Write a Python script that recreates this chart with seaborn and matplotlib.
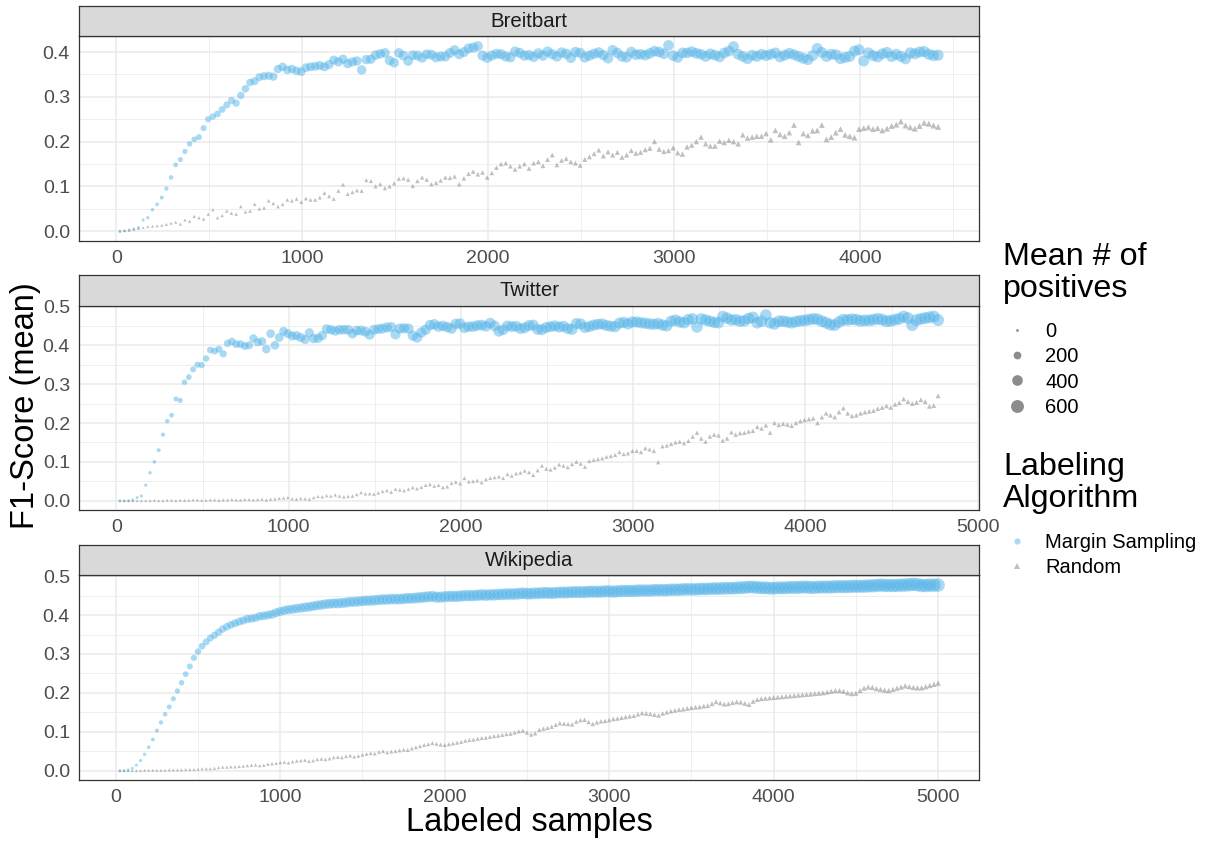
import numpy as np
import pandas as pd
import matplotlib
matplotlib.use("Agg")
import matplotlib.pyplot as plt
from matplotlib.lines import Line2D
from matplotlib.ticker import MultipleLocator, FormatStrFormatter
import seaborn as sns

# ---------------- data ----------------
datasets = ["Breitbart", "Twitter", "Wikipedia"]
algorithms = ["Margin Sampling", "Random"]

breitbart_x = np.arange(20, 4421, 25)
breitbart_ms = [
    0.0, 0.001, 0.003, 0.005, 0.008, 0.025, 0.03, 0.048, 0.06, 0.075,
    0.095, 0.12, 0.148, 0.16, 0.178, 0.195, 0.205, 0.21, 0.23, 0.25,
    0.256, 0.262, 0.272, 0.282, 0.292, 0.286, 0.303, 0.318, 0.332, 0.335,
    0.344, 0.346, 0.347, 0.345, 0.362, 0.367, 0.36, 0.362, 0.358, 0.356,
    0.365, 0.367, 0.368, 0.37, 0.367, 0.372, 0.382, 0.378, 0.384, 0.374,
    0.378, 0.38, 0.36, 0.383, 0.384, 0.393, 0.396, 0.398, 0.381, 0.376,
    0.398, 0.392, 0.38, 0.393, 0.392, 0.387, 0.395, 0.394, 0.388, 0.39,
    0.39, 0.398, 0.404, 0.395, 0.4, 0.408, 0.41, 0.413, 0.392, 0.387,
    0.392, 0.396, 0.395, 0.39, 0.388, 0.401, 0.398, 0.392, 0.393, 0.389,
    0.397, 0.392, 0.401, 0.395, 0.39, 0.399, 0.396, 0.387, 0.4, 0.398,
    0.388, 0.392, 0.396, 0.399, 0.393, 0.386, 0.404, 0.398, 0.39, 0.388,
    0.4, 0.394, 0.395, 0.393, 0.397, 0.402, 0.4, 0.396, 0.415, 0.392,
    0.388, 0.398, 0.398, 0.401, 0.397, 0.395, 0.39, 0.396, 0.393, 0.389,
    0.398, 0.402, 0.412, 0.395, 0.39, 0.385, 0.393, 0.39, 0.395, 0.392,
    0.395, 0.398, 0.389, 0.393, 0.397, 0.394, 0.39, 0.386, 0.383, 0.392,
    0.408, 0.399, 0.39, 0.395, 0.394, 0.385, 0.388, 0.39, 0.402, 0.405,
    0.38, 0.398, 0.392, 0.389, 0.396, 0.399, 0.39, 0.395, 0.39, 0.385,
    0.398, 0.396, 0.4, 0.401, 0.395, 0.392, 0.393]
breitbart_rnd = [
    0.0, 0.001, 0.002, 0.004, 0.006, 0.008, 0.01, 0.011, 0.012, 0.013,
    0.015, 0.018, 0.02, 0.016, 0.025, 0.022, 0.033, 0.03, 0.027, 0.038,
    0.048, 0.03, 0.035, 0.045, 0.04, 0.038, 0.055, 0.043, 0.045, 0.06,
    0.05, 0.052, 0.068, 0.062, 0.055, 0.06, 0.07, 0.068, 0.072, 0.065,
    0.073, 0.07, 0.07, 0.075, 0.085, 0.078, 0.072, 0.09, 0.104, 0.083,
    0.087, 0.091, 0.09, 0.114, 0.112, 0.1, 0.105, 0.096, 0.1, 0.107,
    0.117, 0.118, 0.115, 0.101, 0.112, 0.12, 0.115, 0.105, 0.108, 0.113,
    0.12, 0.119, 0.122, 0.105, 0.118, 0.128, 0.133, 0.127, 0.131, 0.12,
    0.13, 0.142, 0.15, 0.152, 0.145, 0.138, 0.145, 0.15, 0.14, 0.152,
    0.155, 0.146, 0.16, 0.17, 0.148, 0.158, 0.162, 0.155, 0.152, 0.147,
    0.16, 0.166, 0.173, 0.181, 0.168, 0.177, 0.17, 0.176, 0.165, 0.17,
    0.18, 0.174, 0.176, 0.182, 0.185, 0.2, 0.183, 0.178, 0.18, 0.186,
    0.175, 0.172, 0.188, 0.192, 0.2, 0.21, 0.195, 0.19, 0.19, 0.201,
    0.198, 0.203, 0.2, 0.195, 0.215, 0.208, 0.21, 0.212, 0.212, 0.218,
    0.204, 0.225, 0.216, 0.212, 0.22, 0.237, 0.198, 0.218, 0.214, 0.224,
    0.225, 0.237, 0.205, 0.21, 0.22, 0.228, 0.215, 0.212, 0.209, 0.228,
    0.23, 0.232, 0.228, 0.23, 0.225, 0.229, 0.235, 0.238, 0.245, 0.236,
    0.232, 0.229, 0.235, 0.242, 0.24, 0.236, 0.233]
breitbart_ms_pos = [
    0, 1, 2, 3, 5, 8, 12, 18, 24, 32, 40, 49, 58, 67, 76, 85, 94, 103, 112, 121,
    130, 139, 148, 157, 165, 173, 181, 189, 196, 203, 210, 217, 223, 229, 235, 241, 246, 251, 256, 261,
    265, 269, 273, 277, 281, 285, 288, 292, 295, 298, 301, 304, 307, 310, 312, 315, 317, 320, 322, 324,
    326, 328, 330, 332, 334, 336, 338, 340, 342, 344, 345, 347, 348, 350, 351, 353, 354, 356, 357, 359,
    360, 361, 362, 364, 365, 366, 367, 369, 370, 371, 372, 373, 374, 375, 376, 377, 378, 379, 380, 381,
    382, 383, 384, 385, 386, 387, 388, 389, 390, 391, 392, 393, 394, 395, 396, 397, 398, 399, 400, 400,
    401, 402, 403, 404, 405, 405, 406, 407, 408, 408, 409, 410, 411, 411, 412, 413, 414, 414, 415, 416,
    417, 417, 418, 419, 420, 420, 421, 421, 422, 423, 424, 424, 425, 425, 426, 427, 428, 428, 429, 429,
    430, 430, 431, 431, 432, 432, 433, 433, 434, 434, 435, 435, 436, 436, 437, 437, 438]
breitbart_rnd_pos = [
    0, 0, 1, 2, 3, 3, 4, 4, 5, 6, 7, 7, 8, 8, 9, 10, 11, 11, 12, 12,
    13, 13, 14, 15, 16, 16, 17, 17, 18, 18, 19, 20, 21, 21, 22, 22, 23, 23, 24, 25,
    26, 26, 27, 27, 28, 28, 29, 30, 31, 31, 32, 32, 33, 33, 34, 35, 36, 36, 37, 37,
    38, 38, 39, 40, 41, 41, 42, 42, 43, 43, 44, 45, 46, 46, 47, 47, 48, 48, 49, 50,
    51, 51, 52, 52, 53, 53, 54, 55, 56, 56, 57, 57, 58, 58, 59, 60, 61, 61, 62, 62,
    63, 63, 64, 65, 66, 66, 67, 67, 68, 68, 69, 70, 71, 71, 72, 72, 73, 73, 74, 75,
    76, 76, 77, 77, 78, 78, 79, 80, 81, 81, 82, 82, 83, 83, 84, 85, 86, 86, 87, 87,
    88, 88, 89, 90, 91, 91, 92, 92, 93, 93, 94, 95, 96, 96, 97, 97, 98, 98, 99, 100,
    101, 101, 102, 102, 103, 103, 104, 105, 106, 106, 107, 107, 108, 108, 109, 110, 111]

twitter_x = np.arange(20, 4771, 25)
twitter_ms = [
    0.0, 0.0, 0.0, 0.002, 0.008, 0.012, 0.04, 0.072, 0.1, 0.13,
    0.17, 0.205, 0.22, 0.262, 0.258, 0.305, 0.318, 0.338, 0.35, 0.349,
    0.366, 0.388, 0.385, 0.39, 0.378, 0.405, 0.41, 0.403, 0.403, 0.398,
    0.4, 0.418, 0.408, 0.41, 0.39, 0.43, 0.4, 0.42, 0.436, 0.43,
    0.424, 0.425, 0.42, 0.415, 0.432, 0.417, 0.418, 0.425, 0.442, 0.44,
    0.437, 0.44, 0.44, 0.44, 0.43, 0.438, 0.438, 0.435, 0.427, 0.44,
    0.442, 0.443, 0.446, 0.447, 0.428, 0.443, 0.444, 0.443, 0.425, 0.42,
    0.433, 0.44, 0.452, 0.454, 0.448, 0.45, 0.447, 0.443, 0.455, 0.456,
    0.445, 0.448, 0.448, 0.451, 0.452, 0.449, 0.457, 0.45, 0.436, 0.44,
    0.45, 0.448, 0.449, 0.443, 0.445, 0.451, 0.452, 0.441, 0.44, 0.446,
    0.448, 0.45, 0.447, 0.449, 0.443, 0.441, 0.456, 0.455, 0.446, 0.448,
    0.452, 0.454, 0.455, 0.451, 0.449, 0.448, 0.457, 0.459, 0.455, 0.46,
    0.46, 0.458, 0.457, 0.455, 0.454, 0.456, 0.452, 0.45, 0.462, 0.465,
    0.46, 0.458, 0.466, 0.468, 0.447, 0.468, 0.465, 0.462, 0.459, 0.458,
    0.474, 0.47, 0.465, 0.466, 0.462, 0.463, 0.469, 0.472, 0.458, 0.462,
    0.478, 0.458, 0.455, 0.462, 0.462, 0.46, 0.458, 0.461, 0.463, 0.464,
    0.466, 0.468, 0.467, 0.462, 0.458, 0.453, 0.452, 0.46, 0.466, 0.465,
    0.467, 0.466, 0.463, 0.464, 0.464, 0.466, 0.468, 0.466, 0.462, 0.463,
    0.466, 0.468, 0.474, 0.47, 0.452, 0.465, 0.468, 0.47, 0.472, 0.474,
    0.465]
twitter_rnd = [
    0.0, 0.0, 0.0, 0.0, 0.0, 0.0, 0.0, 0.0, 0.001, 0.0,
    0.0, 0.001, 0.001, 0.0, 0.001, 0.001, 0.001, 0.002, 0.002, 0.001,
    0.001, 0.002, 0.002, 0.001, 0.002, 0.002, 0.003, 0.002, 0.002, 0.003,
    0.003, 0.002, 0.003, 0.004, 0.002, 0.004, 0.005, 0.006, 0.007, 0.008,
    0.005, 0.004, 0.006, 0.005, 0.004, 0.008, 0.011, 0.01, 0.013, 0.012,
    0.015, 0.012, 0.01, 0.011, 0.012, 0.016, 0.021, 0.018, 0.018, 0.017,
    0.02, 0.024, 0.026, 0.022, 0.03, 0.028, 0.026, 0.03, 0.034, 0.031,
    0.035, 0.04, 0.042, 0.038, 0.04, 0.034, 0.036, 0.045, 0.048, 0.044,
    0.058, 0.049, 0.05, 0.052, 0.047, 0.055, 0.058, 0.06, 0.062, 0.058,
    0.068, 0.064, 0.07, 0.072, 0.077, 0.073, 0.066, 0.078, 0.09, 0.082,
    0.08, 0.085, 0.093, 0.09, 0.086, 0.094, 0.1, 0.095, 0.087, 0.102,
    0.105, 0.107, 0.109, 0.113, 0.115, 0.118, 0.125, 0.12, 0.122, 0.128,
    0.128, 0.125, 0.135, 0.132, 0.128, 0.099, 0.14, 0.142, 0.146, 0.15,
    0.152, 0.148, 0.154, 0.165, 0.175, 0.16, 0.152, 0.165, 0.17, 0.168,
    0.155, 0.16, 0.176, 0.17, 0.174, 0.175, 0.178, 0.18, 0.19, 0.186,
    0.194, 0.175, 0.2, 0.195, 0.198, 0.196, 0.193, 0.2, 0.205, 0.208,
    0.21, 0.212, 0.2, 0.215, 0.225, 0.22, 0.215, 0.228, 0.238, 0.225,
    0.218, 0.22, 0.225, 0.228, 0.23, 0.232, 0.237, 0.24, 0.244, 0.24,
    0.248, 0.252, 0.262, 0.255, 0.25, 0.253, 0.26, 0.255, 0.243, 0.245,
    0.27]
twitter_ms_pos = [
    0, 0, 1, 2, 3, 6, 10, 16, 22, 30, 38, 47, 56, 65, 75, 85, 95, 105, 115, 125,
    134, 143, 152, 161, 170, 178, 187, 195, 203, 210, 218, 225, 232, 238, 245, 251, 257, 262, 268, 273,
    278, 282, 287, 291, 296, 300, 304, 308, 312, 315, 319, 322, 326, 329, 333, 336, 339, 342, 345, 348,
    351, 353, 356, 358, 361, 363, 366, 368, 371, 373, 376, 378, 380, 382, 384, 386, 388, 390, 392, 394,
    396, 398, 400, 401, 403, 405, 407, 408, 410, 411, 413, 414, 416, 417, 419, 420, 422, 423, 425, 426,
    428, 429, 431, 432, 433, 434, 436, 437, 438, 439, 441, 442, 443, 444, 446, 447, 448, 449, 450, 451,
    452, 453, 455, 456, 457, 458, 459, 460, 461, 462, 463, 464, 465, 466, 467, 468, 469, 470, 471, 472,
    473, 474, 475, 476, 477, 478, 479, 479, 480, 481, 482, 483, 484, 485, 486, 486, 487, 488, 489, 490,
    491, 491, 492, 493, 494, 495, 496, 496, 497, 498, 499, 499, 500, 501, 502, 502, 503, 504, 505, 505,
    506, 507, 508, 508, 509, 510, 511, 511, 512, 513, 514]
twitter_rnd_pos = [
    0, 0, 0, 1, 1, 1, 1, 2, 2, 2, 3, 3, 4, 4, 4, 5, 5, 5, 6, 6,
    6, 7, 7, 7, 7, 8, 8, 8, 9, 9, 9, 10, 10, 10, 11, 11, 11, 12, 12, 12,
    12, 13, 13, 13, 14, 14, 14, 15, 15, 15, 16, 16, 16, 17, 17, 17, 17, 18, 18, 18,
    19, 19, 19, 20, 20, 20, 21, 21, 21, 22, 22, 22, 22, 23, 23, 23, 24, 24, 24, 25,
    25, 25, 26, 26, 26, 27, 27, 27, 27, 28, 28, 28, 29, 29, 29, 30, 30, 30, 31, 31,
    31, 32, 32, 32, 32, 33, 33, 33, 34, 34, 34, 35, 35, 35, 36, 36, 36, 37, 37, 37,
    37, 38, 38, 38, 39, 39, 39, 40, 40, 40, 41, 41, 41, 42, 42, 42, 42, 43, 43, 43,
    44, 44, 44, 45, 45, 45, 46, 46, 46, 47, 47, 47, 47, 48, 48, 48, 49, 49, 49, 50,
    50, 50, 51, 51, 51, 52, 52, 52, 52, 53, 53, 53, 54, 54, 54, 55, 55, 55, 56, 56,
    56, 57, 57, 57, 57, 58, 58, 58, 59, 59, 59]

wikipedia_x = np.arange(25, 5001, 25)
wikipedia_ms = [
    0.0, 0.0, 0.002, 0.006, 0.014, 0.026, 0.042, 0.06, 0.08, 0.103,
    0.124, 0.145, 0.164, 0.185, 0.205, 0.226, 0.248, 0.268, 0.29, 0.306,
    0.32, 0.331, 0.341, 0.348, 0.356, 0.364, 0.37, 0.375, 0.379, 0.383,
    0.386, 0.39, 0.391, 0.393, 0.397, 0.398, 0.4, 0.402, 0.406, 0.409,
    0.412, 0.414, 0.415, 0.417, 0.418, 0.42, 0.421, 0.423, 0.425, 0.426,
    0.428, 0.429, 0.43, 0.43, 0.431, 0.432, 0.434, 0.434, 0.435, 0.436,
    0.437, 0.437, 0.438, 0.439, 0.44, 0.44, 0.441, 0.441, 0.441, 0.442,
    0.443, 0.443, 0.444, 0.445, 0.446, 0.447, 0.448, 0.446, 0.446, 0.447,
    0.448, 0.448, 0.448, 0.449, 0.45, 0.45, 0.45, 0.451, 0.452, 0.451,
    0.452, 0.452, 0.453, 0.453, 0.454, 0.454, 0.454, 0.455, 0.456, 0.455,
    0.455, 0.456, 0.456, 0.457, 0.457, 0.456, 0.457, 0.458, 0.458, 0.458,
    0.459, 0.459, 0.459, 0.459, 0.46, 0.46, 0.46, 0.46, 0.461, 0.461,
    0.46, 0.461, 0.462, 0.462, 0.462, 0.462, 0.463, 0.463, 0.463, 0.463,
    0.464, 0.464, 0.464, 0.464, 0.465, 0.465, 0.465, 0.466, 0.466, 0.466,
    0.466, 0.467, 0.467, 0.467, 0.468, 0.468, 0.468, 0.469, 0.469, 0.469,
    0.47, 0.47, 0.471, 0.472, 0.472, 0.471, 0.47, 0.47, 0.469, 0.469,
    0.47, 0.47, 0.47, 0.471, 0.471, 0.471, 0.472, 0.472, 0.471, 0.471,
    0.472, 0.472, 0.472, 0.472, 0.473, 0.473, 0.473, 0.473, 0.474, 0.474,
    0.474, 0.474, 0.475, 0.475, 0.476, 0.477, 0.476, 0.476, 0.476, 0.476,
    0.477, 0.477, 0.478, 0.479, 0.478, 0.476, 0.476, 0.477, 0.477, 0.477]
wikipedia_rnd = [
    0.0, 0.0, 0.0, 0.0, 0.0, 0.0, 0.001, 0.001, 0.001, 0.001,
    0.001, 0.001, 0.002, 0.002, 0.002, 0.002, 0.003, 0.003, 0.003, 0.004,
    0.005, 0.005, 0.005, 0.006, 0.008, 0.009, 0.009, 0.01, 0.01, 0.011,
    0.012, 0.013, 0.014, 0.015, 0.013, 0.014, 0.017, 0.018, 0.019, 0.021,
    0.022, 0.02, 0.023, 0.025, 0.026, 0.027, 0.024, 0.026, 0.029, 0.03,
    0.029, 0.031, 0.034, 0.035, 0.034, 0.037, 0.039, 0.036, 0.038, 0.041,
    0.043, 0.045, 0.044, 0.048, 0.05, 0.047, 0.049, 0.05, 0.052, 0.054,
    0.053, 0.057, 0.06, 0.063, 0.066, 0.068, 0.071, 0.069, 0.067, 0.066,
    0.068, 0.07, 0.072, 0.074, 0.077, 0.079, 0.08, 0.082, 0.084, 0.085,
    0.087, 0.089, 0.09, 0.092, 0.094, 0.095, 0.098, 0.101, 0.103, 0.098,
    0.093, 0.096, 0.105, 0.108, 0.11, 0.113, 0.118, 0.122, 0.121, 0.12,
    0.119, 0.126, 0.13, 0.131, 0.125, 0.12, 0.124, 0.127, 0.128, 0.13,
    0.133, 0.134, 0.136, 0.138, 0.14, 0.141, 0.145, 0.148, 0.147, 0.146,
    0.144, 0.142, 0.147, 0.15, 0.153, 0.155, 0.157, 0.158, 0.16, 0.162,
    0.163, 0.164, 0.166, 0.167, 0.172, 0.177, 0.174, 0.171, 0.172, 0.175,
    0.177, 0.176, 0.173, 0.17, 0.178, 0.183, 0.185, 0.186, 0.187, 0.188,
    0.189, 0.19, 0.191, 0.192, 0.193, 0.194, 0.195, 0.196, 0.197, 0.198,
    0.199, 0.2, 0.202, 0.204, 0.206, 0.206, 0.204, 0.2, 0.198, 0.199,
    0.206, 0.212, 0.215, 0.214, 0.211, 0.209, 0.207, 0.206, 0.209, 0.212,
    0.215, 0.218, 0.216, 0.214, 0.213, 0.213, 0.216, 0.219, 0.222, 0.225]
wikipedia_ms_pos = [
    0, 1, 2, 4, 7, 10, 15, 20, 27, 34, 42, 50, 59, 68, 78, 88, 98, 108, 118, 128,
    138, 148, 157, 167, 176, 185, 193, 202, 210, 218, 225, 233, 240, 247, 253, 260, 266, 272, 278, 284,
    289, 295, 300, 306, 311, 316, 321, 326, 331, 336, 340, 345, 350, 354, 358, 363, 367, 371, 375, 379,
    383, 387, 391, 395, 398, 402, 405, 409, 412, 416, 419, 423, 426, 430, 433, 436, 439, 442, 445, 448,
    451, 454, 457, 460, 463, 466, 468, 471, 473, 476, 478, 481, 483, 486, 488, 491, 493, 496, 498, 501,
    503, 505, 507, 510, 512, 514, 516, 518, 520, 522, 524, 526, 528, 530, 532, 534, 536, 538, 540, 542,
    544, 546, 547, 549, 551, 553, 555, 557, 558, 560, 562, 564, 565, 567, 569, 571, 572, 574, 576, 578,
    579, 581, 582, 584, 585, 587, 588, 590, 592, 594, 595, 597, 598, 600, 601, 603, 604, 606, 607, 609,
    610, 612, 613, 615, 616, 618, 619, 620, 622, 623, 624, 626, 627, 629, 630, 632, 633, 634, 635, 637,
    638, 640, 641, 642, 643, 645, 646, 648, 649, 650, 651, 653, 654, 655, 656, 658, 659, 660, 661, 663]
wikipedia_rnd_pos = [
    0, 1, 1, 2, 2, 2, 3, 3, 4, 4, 4, 5, 5, 6, 6, 6, 7, 7, 8, 8,
    8, 9, 9, 10, 10, 10, 11, 11, 12, 12, 12, 13, 13, 14, 14, 14, 15, 15, 16, 16,
    17, 17, 17, 18, 18, 19, 19, 19, 20, 20, 21, 21, 21, 22, 22, 23, 23, 23, 24, 24,
    25, 25, 25, 26, 26, 27, 27, 27, 28, 28, 29, 29, 29, 30, 30, 31, 31, 31, 32, 32,
    33, 33, 33, 34, 34, 35, 35, 35, 36, 36, 37, 37, 37, 38, 38, 39, 39, 39, 40, 40,
    41, 41, 41, 42, 42, 43, 43, 43, 44, 44, 45, 45, 45, 46, 46, 47, 47, 47, 48, 48,
    49, 49, 49, 50, 50, 51, 51, 51, 52, 52, 53, 53, 53, 54, 54, 55, 55, 55, 56, 56,
    57, 57, 57, 58, 58, 59, 59, 59, 60, 60, 61, 61, 61, 62, 62, 63, 63, 63, 64, 64,
    65, 65, 65, 66, 66, 67, 67, 67, 68, 68, 69, 69, 69, 70, 70, 71, 71, 71, 72, 72,
    73, 73, 73, 74, 74, 75, 75, 75, 76, 76, 77, 77, 77, 78, 78, 79, 79, 80, 80, 81]

size_legend_values = [0, 200, 400, 600]

# ---------------- assemble a long table ----------------
series = {
    "Breitbart": (breitbart_x, breitbart_ms, breitbart_rnd, breitbart_ms_pos, breitbart_rnd_pos),
    "Twitter": (twitter_x, twitter_ms, twitter_rnd, twitter_ms_pos, twitter_rnd_pos),
    "Wikipedia": (wikipedia_x, wikipedia_ms, wikipedia_rnd, wikipedia_ms_pos, wikipedia_rnd_pos),
}
frames = []
for name, (xs, ms, rnd, ms_pos, rnd_pos) in series.items():
    frames.append(pd.DataFrame({"dataset": name, "algorithm": "Margin Sampling",
                                "samples": xs, "f1": ms, "positives": ms_pos}))
    frames.append(pd.DataFrame({"dataset": name, "algorithm": "Random",
                                "samples": xs, "f1": rnd, "positives": rnd_pos}))
df = pd.concat(frames, ignore_index=True)

# ---------------- styling ----------------
sns.set_style("white")
plt.rcParams["font.family"] = ["Liberation Sans", "DejaVu Sans"]

W, H = 1206, 841
fig = plt.figure(figsize=(W / 100, H / 100), dpi=100)


def fx(px):
    return px / W


def fy(py):
    return 1 - py / H


palette = {"Margin Sampling": "#56B4E9", "Random": "#808080"}
markers = {"Margin Sampling": "o", "Random": "^"}
SIZE_RANGE = (4, 100)
SIZE_NORM = (0, 700)


def area(v):
    return SIZE_RANGE[0] + (SIZE_RANGE[1] - SIZE_RANGE[0]) * (v - SIZE_NORM[0]) / (SIZE_NORM[1] - SIZE_NORM[0])


panels = [(6, 36, 240.5), (275, 305.7, 510), (545, 575, 780)]
left, right = 79, 979
border = "#333333"

for name, (st, top, bot) in zip(datasets, panels):
    ax = fig.add_axes([fx(left), fy(bot), (right - left) / W, (bot - top) / H])
    ax.set_axisbelow(True)
    sub = df[df["dataset"] == name]
    sns.scatterplot(data=sub, x="samples", y="f1", hue="algorithm", style="algorithm",
                    size="positives", sizes=SIZE_RANGE, size_norm=SIZE_NORM,
                    palette=palette, markers=markers, hue_order=algorithms,
                    style_order=algorithms, alpha=0.5, linewidth=0, legend=False,
                    ax=ax, zorder=3)
    xlo, xhi = sub["samples"].min(), sub["samples"].max()
    ylo, yhi = sub["f1"].min(), sub["f1"].max()
    ax.set_xlim(xlo - 0.05 * (xhi - xlo), xhi + 0.05 * (xhi - xlo))
    ax.set_ylim(ylo - 0.05 * (yhi - ylo), yhi + 0.05 * (yhi - ylo))
    ax.xaxis.set_major_locator(MultipleLocator(1000))
    ax.xaxis.set_minor_locator(MultipleLocator(500))
    ax.yaxis.set_major_locator(MultipleLocator(0.1))
    ax.yaxis.set_minor_locator(MultipleLocator(0.05))
    ax.yaxis.set_major_formatter(FormatStrFormatter("%.1f"))
    ax.xaxis.set_major_formatter(FormatStrFormatter("%d"))
    ax.grid(which="major", color="#ebebeb", lw=1.1)
    ax.grid(which="minor", color="#ebebeb", lw=0.55)
    ax.tick_params(which="major", direction="out", length=4, width=0.8, color=border,
                   labelsize=14, labelcolor="#4d4d4d", pad=2.5)
    ax.tick_params(which="minor", length=0)
    for s in ax.spines.values():
        s.set_color(border)
        s.set_linewidth(0.9)
    ax.set_xlabel("")
    ax.set_ylabel("")

    sax = fig.add_axes([fx(left), fy(top), (right - left) / W, (top - st) / H])
    sax.set_facecolor("#d9d9d9")
    sax.set_xticks([])
    sax.set_yticks([])
    for s in sax.spines.values():
        s.set_color(border)
        s.set_linewidth(0.9)
    sax.text(0.5, 0.48, name, ha="center", va="center", fontsize=14.7,
             color="#1a1a1a", transform=sax.transAxes)

fig.text(fx(26), fy(406), "F1-Score (mean)", rotation=90, ha="center", va="center",
         fontsize=23.5, color="black")
fig.text(fx(529), fy(823), "Labeled samples", ha="center", va="center",
         fontsize=23.5, color="black")

# legend titles
for txt, base in [("Mean # of", 265), ("positives", 296.7),
                  ("Labeling", 475), ("Algorithm", 506.7)]:
    fig.text(fx(1003), fy(base), txt, ha="left", va="baseline", fontsize=23.2,
             color="black")

size_handles = [Line2D([0], [0], marker="o", ls="", markersize=np.sqrt(area(v)),
                       markerfacecolor="black", markeredgewidth=0, alpha=0.45)
                for v in size_legend_values]
leg1 = fig.legend(size_handles, [str(v) for v in size_legend_values],
                  loc="center left", bbox_to_anchor=(fx(1004.7), fy(369.5)),
                  frameon=False, fontsize=14.5, handlelength=1.2,
                  handletextpad=0.81, labelspacing=0.3, borderpad=0, borderaxespad=0,
                  labelcolor="black")

shape_handles = [Line2D([0], [0], marker=markers[a], ls="", markersize=4.5,
                        markerfacecolor=palette[a], markeredgewidth=0, alpha=0.5)
                 for a in algorithms]
leg2 = fig.legend(shape_handles, algorithms, loc="center left",
                  bbox_to_anchor=(fx(1004.7), fy(555)), frameon=False,
                  fontsize=14.5, handlelength=1.2, handletextpad=0.81,
                  labelspacing=0.3, borderpad=0, borderaxespad=0, labelcolor="black")

fig.savefig("out.png", dpi=100)
